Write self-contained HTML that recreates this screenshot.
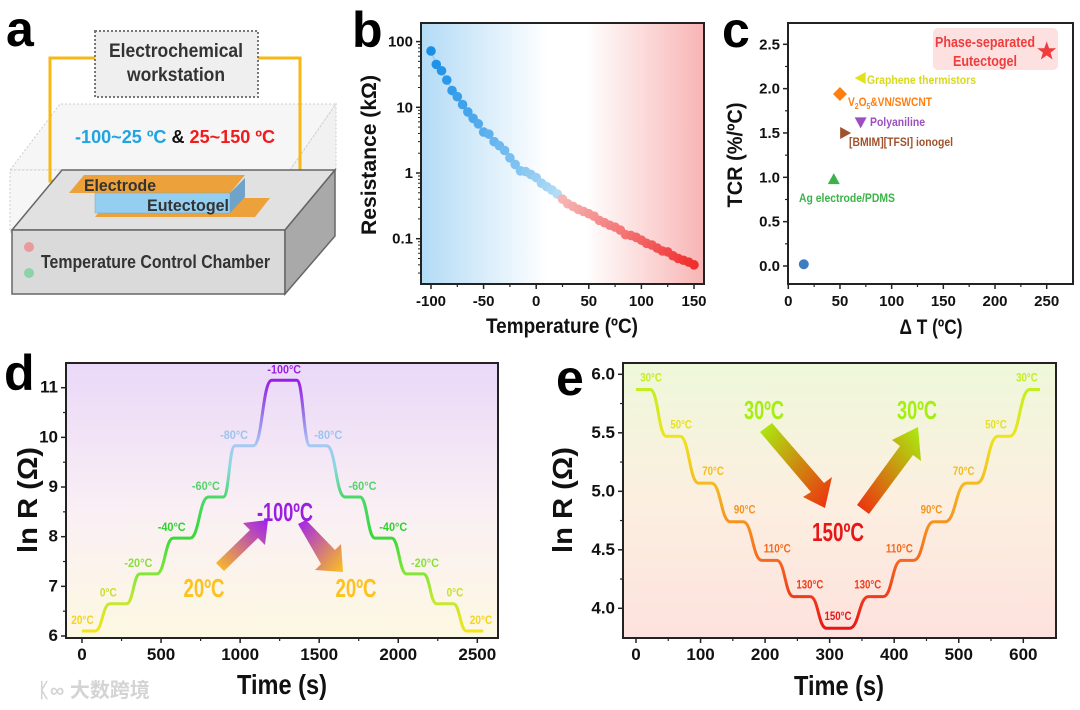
<!DOCTYPE html>
<html><head><meta charset="utf-8">
<style>
html,body{margin:0;padding:0;background:#fff;}
svg{display:block;font-family:"Liberation Sans Narrow","Liberation Sans",sans-serif;font-weight:bold;}
</style></head>
<body>
<svg id="fig" width="1080" height="710" viewBox="0 0 1080 710" xmlns="http://www.w3.org/2000/svg">
<defs>
  <linearGradient id="bgB" x1="0" x2="1" y1="0" y2="0">
    <stop offset="0" stop-color="#b3dbf6"/><stop offset="0.45" stop-color="#ffffff"/><stop offset="0.58" stop-color="#ffffff"/><stop offset="1" stop-color="#f8b4b4"/>
  </linearGradient>
  <linearGradient id="bgD" x1="0" x2="0" y1="0" y2="1">
    <stop offset="0" stop-color="#ead8f8"/><stop offset="0.55" stop-color="#faf0f4"/><stop offset="1" stop-color="#fdf8e2"/>
  </linearGradient>
  <linearGradient id="bgE" x1="0" x2="0" y1="0" y2="1">
    <stop offset="0" stop-color="#eef8da"/><stop offset="0.5" stop-color="#fcefe0"/><stop offset="1" stop-color="#fde2de"/>
  </linearGradient>
  <linearGradient id="arrD1" x1="0" y1="1" x2="1" y2="0"><stop offset="0" stop-color="#fcc21e"/><stop offset="1" stop-color="#a020f0"/></linearGradient>
  <linearGradient id="arrD2" x1="0" y1="0" x2="1" y2="1"><stop offset="0" stop-color="#a020f0"/><stop offset="1" stop-color="#fcc21e"/></linearGradient>
  <linearGradient id="arrE1" x1="0" y1="0" x2="1" y2="1"><stop offset="0" stop-color="#a8f010"/><stop offset="1" stop-color="#f02a10"/></linearGradient>
  <linearGradient id="arrE2" x1="0" y1="1" x2="1" y2="0"><stop offset="0" stop-color="#f02a10"/><stop offset="1" stop-color="#a8f010"/></linearGradient>
</defs>

<!-- Panel a -->
<g>
  <text x="6" y="46" font-size="50" font-family="Liberation Sans">a</text>
  <polygon points="10,170 60,104 336,104 290,170" fill="#f6f6f6" stroke="#ccc" stroke-dasharray="2,2"/>
  <rect x="10" y="170" width="280" height="62" fill="#f6f6f6" stroke="#ccc" stroke-dasharray="2,2"/>
  <polygon points="290,170 336,104 336,170 290,232" fill="#f1f1f1" stroke="#ccc" stroke-dasharray="2,2"/>
  <polyline points="95,58 50,58 50,181 75,181" fill="none" stroke="#f5b814" stroke-width="3"/>
  <polyline points="258,58 300,58 300,205 262,205" fill="none" stroke="#f5b814" stroke-width="3"/>
  <rect x="95" y="31" width="163" height="66" fill="#efefef" stroke="#777" stroke-width="2" stroke-dasharray="2,2"/>
  <text x="176" y="57" font-size="19" fill="#333" text-anchor="middle" textLength="134" lengthAdjust="spacingAndGlyphs">Electrochemical</text>
  <text x="176" y="81" font-size="19" fill="#333" text-anchor="middle" textLength="98" lengthAdjust="spacingAndGlyphs">workstation</text>
  <text x="75" y="143" font-size="18" textLength="200" lengthAdjust="spacingAndGlyphs"><tspan fill="#1ea3e3">-100~25 ºC </tspan><tspan fill="#111">&amp; </tspan><tspan fill="#ee1c1c">25~150 ºC</tspan></text>
  <polygon points="12,230 62,170 335,170 285,230" fill="#e1e1e1" stroke="#666" stroke-width="1.5"/>
  <rect x="12" y="230" width="273" height="64" fill="#dadada" stroke="#666" stroke-width="1.5"/>
  <polygon points="285,230 335,170 335,236 285,294" fill="#a9a9a9" stroke="#666" stroke-width="1.5"/>
  <polygon points="69,193 84,175 245,175 230,193" fill="#eda13a"/>
  <polygon points="95,217 110,198 270,198 255,217" fill="#eda13a"/>
  <rect x="95" y="193" width="135" height="20" fill="#94cff2" stroke="#7ab" stroke-width="0.5"/>
  <polygon points="230,193 245,178 245,197 230,213" fill="#6fa3c9"/>
  <text x="84" y="191" font-size="17" fill="#333" textLength="72" lengthAdjust="spacingAndGlyphs">Electrode</text>
  <text x="147" y="211" font-size="17" fill="#333" textLength="82" lengthAdjust="spacingAndGlyphs">Eutectogel</text>
  <circle cx="29" cy="247" r="5" fill="#e99a9a"/>
  <circle cx="29" cy="273" r="5" fill="#8fd1a8"/>
  <text x="41" y="268" font-size="18" fill="#333" textLength="229" lengthAdjust="spacingAndGlyphs">Temperature Control Chamber</text>
</g>

<g id="pb"></g>
<g id="pc"></g>
<g id="pd"></g>
<g id="pe"></g>

<text x="38" y="697" font-size="20" fill="#d4d4d4" font-family="Liberation Sans,'Noto Sans CJK SC',sans-serif">ᛕ∞ 大数跨境</text>
</svg>

<script>
// ---------- Panel b data ----------
const bTemps = [-100,-95,-90,-85,-80,-75,-70,-65,-60,-55,-50,-45,-40,-35,-30,-25,-20,-15,-10,-5,0,5,10,15,20,25,30,35,40,45,50,55,60,65,70,75,80,85,90,95,100,105,110,115,120,125,130,135,140,145,150];
const bRes = [72,45,36,26,18,14.5,11,8.5,6.8,5.6,4.2,3.9,3.0,2.6,2.2,1.7,1.35,1.08,1.05,0.95,0.85,0.7,0.62,0.55,0.48,0.4,0.34,0.31,0.28,0.26,0.24,0.22,0.19,0.175,0.16,0.15,0.135,0.115,0.112,0.105,0.095,0.085,0.08,0.072,0.065,0.063,0.055,0.05,0.047,0.044,0.04];
const bXTicks = [-100,-50,0,50,100,150];
const bYTicks = [100,10,1,0.1];
const bYTickLabels = ["100","10","1","0.1"];

// ---------- Panel c data ----------
const cNames = ["This work baseline","Ag electrode/PDMS","[BMIM][TFSI] ionogel","Polyaniline","V2O5&VN/SWCNT","Graphene thermistors","Phase-separated Eutectogel"];
const cDeltaT = [15,44,55,70,50,70,250];
const cTCR = [0.02,0.98,1.5,1.62,1.94,2.12,2.42];
const cXTicks = [0,50,100,150,200,250];
const cYTicks = [0,0.5,1.0,1.5,2.0,2.5];

// ---------- Panel d data ----------
const dStart = [0,177,367,578,800,967,1200,1442,1663,1853,2053,2243,2433];
const dEnd   = [82,282,472,683,894,1083,1358,1547,1758,1958,2159,2348,2538];
const dLevel = [6.1,6.65,7.25,7.97,8.8,9.83,11.15,9.83,8.8,7.97,7.25,6.65,6.1];
const dLabels = ["20°C","0°C","-20°C","-40°C","-60°C","-80°C","-100°C","-80°C","-60°C","-40°C","-20°C","0°C","20°C"];
const dXTicks = [0,500,1000,1500,2000,2500];
const dYTicks = [6,7,8,9,10,11];

// ---------- Panel e data ----------
const eStart = [0,47,97,146,195,244,295,360,411,461,512,561,610];
const eEnd   = [22,68,117,166,218,270,331,383,430,479,528,579,626];
const eLevel = [5.87,5.47,5.07,4.74,4.41,4.1,3.83,4.1,4.41,4.74,5.07,5.47,5.87];
const eLabels = ["30°C","50°C","70°C","90°C","110°C","130°C","150°C","130°C","110°C","90°C","70°C","50°C","30°C"];
const eXTicks = [0,100,200,300,400,500,600];
const eYTicks = [4.0,4.5,5.0,5.5,6.0];
const eYTickLabels = ["4.0","4.5","5.0","5.5","6.0"];

const NS = "http://www.w3.org/2000/svg";
function mk(parent, tag, attrs, txt) {
  const e = document.createElementNS(NS, tag);
  for (const k in attrs) e.setAttribute(k, attrs[k]);
  if (txt !== undefined) e.textContent = txt;
  parent.appendChild(e);
  return e;
}
function lin(d0,d1,r0,r1){return v=>r0+(v-d0)*(r1-r0)/(d1-d0);}
function hex2rgb(h){return [1,3,5].map(i=>parseInt(h.substr(i,2),16));}
function mix(a,b,t){const A=hex2rgb(a),B=hex2rgb(b);return "rgb("+A.map((v,i)=>Math.round(v+(B[i]-v)*t)).join(",")+")";}

function frame(g, x0,y0,x1,y1, fill){
  const r = mk(g,"rect",{x:x0,y:y0,width:x1-x0,height:y1-y0,fill:fill,stroke:"#222","stroke-width":2});
  
  
}
function xTicks(g, ticks, labels, sx, yb, fs, minor){
  ticks.forEach((t,i)=>{
    mk(g,"line",{x1:sx(t),x2:sx(t),y1:yb,y2:yb+5,stroke:"#222","stroke-width":1.5});
    const tx = mk(g,"text",{x:sx(t),y:yb+22,"font-size":fs,"text-anchor":"middle",fill:"#111"}, labels?labels[i]:String(t));
    
    
    if (minor && i<ticks.length-1){const m=(t+ticks[i+1])/2; mk(g,"line",{x1:sx(m),x2:sx(m),y1:yb,y2:yb+3,stroke:"#222","stroke-width":1.2});}
  });
}
function yTicks(g, ticks, labels, sy, xl, fs, minorFn){
  ticks.forEach((t,i)=>{
    mk(g,"line",{x1:xl-5,x2:xl,y1:sy(t),y2:sy(t),stroke:"#222","stroke-width":1.5});
    const tx = mk(g,"text",{x:xl-8,y:sy(t)+5,"font-size":fs,"text-anchor":"end",fill:"#111"}, labels?labels[i]:String(t));
    
    
    if (minorFn && i<ticks.length-1){const m=minorFn(t,ticks[i+1]); mk(g,"line",{x1:xl-3,x2:xl,y1:sy(m),y2:sy(m),stroke:"#222","stroke-width":1.2});}
  });
}
function title(g, x,y,txt,fs,len,rot,name){
  const a={x:x,y:y,"font-size":fs,"text-anchor":"middle",fill:"#111",textLength:len,lengthAdjust:"spacingAndGlyphs"};
  if(rot) a.transform="rotate(-90 "+x+" "+y+")";
  const t=mk(g,"text",a,txt);
  
  
}

// ===== Panel b =====
(function(){
  const g=document.getElementById("pb");
  const L=mk(g,"text",{x:352,y:47,"font-size":50,"font-family":"Liberation Sans"},"b");
   
  const sx=lin(-100,150,431,694);
  const sy=v=>173-Math.log10(v)*65.7;
  frame(g,421,23,704,284,"url(#bgB)");
  xTicks(g,bXTicks,null,sx,284,15,true);
  yTicks(g,bYTicks,bYTickLabels,sy,421,15,null);
  [0.01,0.1,1,10,100].forEach(dec=>{for(let k=2;k<10;k++){const v=dec*k,y=sy(v); if(y>24&&y<283) mk(g,"line",{x1:418,x2:421,y1:y,y2:y,stroke:"#222","stroke-width":1});}});
  let d="";
  bTemps.forEach((t,i)=>{d+=(i?"L":"M")+sx(t)+","+sy(bRes[i]);});
  mk(g,"path",{d:d,fill:"none",stroke:"#6ab8ee","stroke-width":1.2,opacity:0.6});
  bTemps.forEach((t,i)=>{
    const c = t<=22 ? mix("#1a8fe6","#b4dcf6",(t+100)/122) : mix("#f7b4b4","#f02e2e",(t-25)/125);
    const p=mk(g,"circle",{cx:sx(t),cy:sy(bRes[i]),r:4.8,fill:c});
    
    
  });
  title(g,376,155,"Resistance (kΩ)",21,160,true,"y-axis-title");
  title(g,562,333,"Temperature (ºC)",21,152,false,"x-axis-title");
})();

// ===== Panel c =====
(function(){
  const g=document.getElementById("pc");
  const L=mk(g,"text",{x:722,y:47,"font-size":50,"font-family":"Liberation Sans"},"c");
   
  const sx=lin(0,250,788.3,1046.7), sy=lin(0,2.5,266,44.3);
  frame(g,788,23,1073,284,"#fff");
  mk(g,"rect",{x:933,y:28,width:125,height:42,rx:5,fill:"#fde0e0"});
  xTicks(g,cXTicks,null,sx,284,15,true);
  yTicks(g,cYTicks,cYTicks.map(v=>v.toFixed(1)),sy,788,15,(a,b)=>(a+b)/2);
  const colors=["#3b7fc2","#3cb34a","#a0522d","#9b4fc0","#ff7f0e","#e2e21c","#f03c3c"];
  const shapes=["circle","up","right","down","diamond","left","star"];
  cDeltaT.forEach((t,i)=>{
    const x=sx(t), y=sy(cTCR[i]), c=colors[i]; let el;
    const s=shapes[i];
    if(s==="circle") el=mk(g,"circle",{cx:x,cy:y,r:5,fill:c});
    else if(s==="up") el=mk(g,"polygon",{points:`${x},${y-6} ${x+6},${y+5} ${x-6},${y+5}`,fill:c});
    else if(s==="down") el=mk(g,"polygon",{points:`${x-6},${y-5} ${x+6},${y-5} ${x},${y+6}`,fill:c});
    else if(s==="right") el=mk(g,"polygon",{points:`${x-5},${y-6} ${x+6},${y} ${x-5},${y+6}`,fill:c});
    else if(s==="left") el=mk(g,"polygon",{points:`${x+5},${y-6} ${x-6},${y} ${x+5},${y+6}`,fill:c});
    else if(s==="diamond") el=mk(g,"polygon",{points:`${x},${y-7} ${x+7},${y} ${x},${y+7} ${x-7},${y}`,fill:c});
    else { let pts=[]; for(let k=0;k<10;k++){const r=k%2?4:10, a=-Math.PI/2+k*Math.PI/5; pts.push((x+r*Math.cos(a)).toFixed(1)+","+(y+r*Math.sin(a)).toFixed(1));} el=mk(g,"polygon",{points:pts.join(" "),fill:c}); }
    
    
  });
  const lab=(x,y,txt,c,len)=>{const t=mk(g,"text",{x:x,y:y,"font-size":12,fill:c,textLength:len,lengthAdjust:"spacingAndGlyphs"},txt);return t;};
  lab(867,84,"Graphene thermistors","#d8d820",109);
  const v=mk(g,"text",{x:848,y:106,"font-size":12,fill:"#ff7f0e",textLength:84,lengthAdjust:"spacingAndGlyphs"});
  v.innerHTML='V<tspan font-size="8" dy="3">2</tspan><tspan dy="-3">O</tspan><tspan font-size="8" dy="3">5</tspan><tspan dy="-3">&amp;VN/SWCNT</tspan>';
   
  lab(870,126,"Polyaniline","#9b4fc0",55);
  lab(849,146,"[BMIM][TFSI] ionogel","#a0522d",104);
  lab(799,202,"Ag electrode/PDMS","#3cb34a",96);
  const p1=mk(g,"text",{x:985,y:47,"font-size":15,fill:"#f03c3c","text-anchor":"middle",textLength:100,lengthAdjust:"spacingAndGlyphs"},"Phase-separated");
   
  const p2=mk(g,"text",{x:985,y:66,"font-size":15,fill:"#f03c3c","text-anchor":"middle",textLength:64,lengthAdjust:"spacingAndGlyphs"},"Eutectogel");
   
  title(g,742,155,"TCR (%/ºC)",21,105,true,"y-axis-title");
  title(g,931,334,"Δ T (ºC)",21,63,false,"x-axis-title");
})();

function stepPath(sx,sy,st,en,lv){
  let d="M"+sx(st[0])+","+sy(lv[0])+"L"+sx(en[0])+","+sy(lv[0]);
  for(let i=1;i<st.length;i++){
    const m=(en[i-1]+st[i])/2;
    d+="C"+sx(m)+","+sy(lv[i-1])+" "+sx(m)+","+sy(lv[i])+" "+sx(st[i])+","+sy(lv[i]);
    d+="L"+sx(en[i])+","+sy(lv[i]);
  }
  return d;
}

// ===== Panel d =====
(function(){
  const g=document.getElementById("pd");
  const L=mk(g,"text",{x:4,y:390,"font-size":50,"font-family":"Liberation Sans"},"d");
   
  const sx=lin(0,2500,82,477.3), sy=lin(6,11,636,387.7);
  frame(g,66,363,498,638,"url(#bgD)");
  xTicks(g,dXTicks,null,sx,638,17,true);
  yTicks(g,dYTicks,null,sy,66,17,(a,b)=>(a+b)/2);
  const gr=mk(g,"linearGradient",{id:"lineD",gradientUnits:"userSpaceOnUse",x1:0,x2:0,y1:sy(6.1),y2:sy(11.15)});
  [[6.1,"#f2e41e"],[6.7,"#c4e832"],[7.3,"#7ee63a"],[8.0,"#3ad83a"],[8.8,"#4cd86a"],[9.4,"#8ad8e0"],[9.85,"#a6c8f4"],[10.5,"#9670ea"],[11.15,"#9a1ee2"]].forEach(s=>{
    mk(gr,"stop",{offset:((s[0]-6.1)/(11.15-6.1)).toFixed(3),"stop-color":s[1]});
  });
  const p=mk(g,"path",{d:stepPath(sx,sy,dStart,dEnd,dLevel),fill:"none",stroke:"url(#lineD)","stroke-width":3});
   
  const lc=v=>v<6.4?"#f2d41e":v<6.9?"#c8e02a":v<7.5?"#88e03a":v<8.5?"#2ed22e":v<9.2?"#54d46a":v<10.5?"#9cc4f0":"#9a1ee2";
  dLabels.forEach((t,i)=>{
    const cx=(dStart[i]+dEnd[i])/2;
    const tx=mk(g,"text",{x:sx(cx)+(i===0?-6:i===12?6:i===6?0:i<6?-10:10),y:sy(dLevel[i])-7,"font-size":12,fill:lc(dLevel[i]),"text-anchor":"middle",textLength:t.length*5.6,lengthAdjust:"spacingAndGlyphs"},t);
     
  });
  const a1=mk(g,"polygon",{points:"216,563 250,530 243,523 268,520 265,545 258,538 224,571",fill:"url(#arrD1)"});
   
  const a2=mk(g,"polygon",{points:"298,524 306,520 335,550 341,544 343,572 315,570 321,564",fill:"url(#arrD2)"});
   
  mk(g,"text",{x:285,y:521,"font-size":26,fill:"#9a1ee2","text-anchor":"middle",textLength:56,lengthAdjust:"spacingAndGlyphs"},"-100ºC");
  mk(g,"text",{x:204,y:597,"font-size":26,fill:"#fcc21e","text-anchor":"middle",textLength:41,lengthAdjust:"spacingAndGlyphs"},"20ºC");
  mk(g,"text",{x:356,y:597,"font-size":26,fill:"#fcc21e","text-anchor":"middle",textLength:41,lengthAdjust:"spacingAndGlyphs"},"20ºC");
  title(g,37,500,"ln R (Ω)",28,106,true,"y-axis-title");
  title(g,282,694,"Time (s)",28,90,false,"x-axis-title");
})();

// ===== Panel e =====
(function(){
  const g=document.getElementById("pe");
  const L=mk(g,"text",{x:556,y:395,"font-size":50,"font-family":"Liberation Sans"},"e");
   
  const sx=lin(0,600,636,1023.3), sy=lin(4,6,608.3,374.3);
  frame(g,623,363,1056,638,"url(#bgE)");
  xTicks(g,eXTicks,null,sx,638,17,true);
  yTicks(g,eYTicks,eYTickLabels,sy,623,17,(a,b)=>(a+b)/2);
  const gr=mk(g,"linearGradient",{id:"lineE",gradientUnits:"userSpaceOnUse",x1:0,x2:0,y1:sy(3.83),y2:sy(5.87)});
  [[3.83,"#e81616"],[4.1,"#f03c1c"],[4.41,"#f46a20"],[4.74,"#f59420"],[5.07,"#f4bc20"],[5.47,"#eee41e"],[5.87,"#c4ee20"]].forEach(s=>{
    mk(gr,"stop",{offset:((s[0]-3.83)/(5.87-3.83)).toFixed(3),"stop-color":s[1]});
  });
  const p=mk(g,"path",{d:stepPath(sx,sy,eStart,eEnd,eLevel),fill:"none",stroke:"url(#lineE)","stroke-width":3});
   
  const lc=v=>v<3.95?"#e81616":v<4.25?"#f03c1c":v<4.6?"#f46a20":v<4.9?"#f59420":v<5.2?"#f4bc20":v<5.6?"#e8e01e":"#c4ee20";
  eLabels.forEach((t,i)=>{
    const cx=(eStart[i]+eEnd[i])/2;
    const off = i<6 ? 8 : i>6 ? -8 : 0;
    const tx=mk(g,"text",{x:sx(cx)+off,y:sy(eLevel[i])-8,"font-size":12,fill:lc(eLevel[i]),"text-anchor":"middle",textLength:t.length*5.4,lengthAdjust:"spacingAndGlyphs"},t);
     
  });
  const a1=mk(g,"polygon",{points:"760,432 772,423 824,483 832,477 825,508 803,497 811,492",fill:"url(#arrE1)"});
   
  const a2=mk(g,"polygon",{points:"857,505 869,514 913,455 921,461 918,427 892,440 900,446",fill:"url(#arrE2)"});
   
  mk(g,"text",{x:764,y:419,"font-size":26,fill:"#a6ee12","text-anchor":"middle",textLength:40,lengthAdjust:"spacingAndGlyphs"},"30ºC");
  mk(g,"text",{x:917,y:419,"font-size":26,fill:"#a6ee12","text-anchor":"middle",textLength:40,lengthAdjust:"spacingAndGlyphs"},"30ºC");
  mk(g,"text",{x:838,y:541,"font-size":26,fill:"#e81616","text-anchor":"middle",textLength:52,lengthAdjust:"spacingAndGlyphs"},"150ºC");
  title(g,572,500,"ln R (Ω)",28,106,true,"y-axis-title");
  title(g,839,695,"Time (s)",28,90,false,"x-axis-title");
})();
</script>
</body></html>
